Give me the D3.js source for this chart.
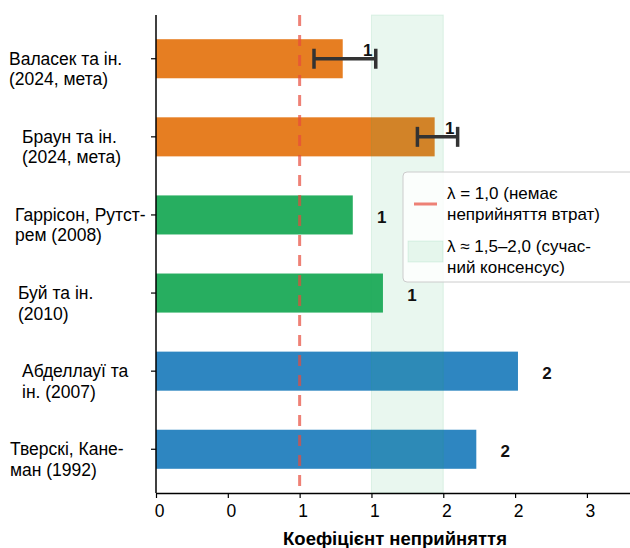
<!DOCTYPE html>
<html>
<head>
<meta charset="utf-8">
<script src="https://cdn.jsdelivr.net/npm/d3@7"></script>
<style>
  body { margin: 0; background: #fff; }
  text { font-family: "Liberation Sans", Arial, sans-serif; }
</style>
</head>
<body>
<div id="chart"></div>
<script>
// Data (top to bottom)
const studies = [
	'Валасек та ін.\n(2024, мета)',
	'Браун та ін.\n(2024, мета)',
	'Гаррісон, Рутст-\nрем (2008)',
	'Буй та ін.\n(2010)',
	'Абделлауї та\nін. (2007)',
	'Тверскі, Кане-\nман (1992)',
]
const lossAversion = [1.30, 1.94, 1.37, 1.58, 2.52, 2.23]
const ciLow = [1.10, 1.82, null, null, null, null]
const ciHigh = [1.53, 2.10, null, null, null, null]
const studyGroup = ['meta', 'meta', 'lab', 'lab', 'field', 'field']
const xTicks = [0, 0.5, 1, 1.5, 2, 2.5, 3]
const xTickLabels = ['0', '0', '1', '1', '2', '2', '3']
const noLossLambda = 1.0
const consensusBand = [1.5, 2.0]
const legendLabels = [
	['λ = 1,0 (немає', 'неприйняття втрат)'],
	['λ ≈ 1,5–2,0 (сучас-', 'ний консенсус)'],
]
const xTitle = 'Коефіцієнт неприйняття'

// Styles / layout
const colors = {
	meta: '#e67e22',
	lab: '#27ae60',
	field: '#2e86c1',
	refLine: '#e74c3c',
	band: '#27ae60',
	err: '#333333',
}
const labelLeft = [9, 22, 15, 18, 22, 10] // left edge of each y tick label block
const width = 630, height = 548
const plot = {left: 156, right: 630, top: 15, bottom: 493}
const fontSize = 17.5

const svg = d3.select('#chart').append('svg')
	.attr('width', width).attr('height', height)

const x = d3.scaleLinear().domain([0, 3.3]).range([plot.left, plot.right])
const y = d3.scaleBand().domain(studies)
	.range([plot.top, plot.bottom])
	.paddingInner(0.5).paddingOuter(0.31)
const yMid = s => y(s) + y.bandwidth() / 2

// Bars
svg.selectAll('.bar')
	.data(studies).enter()
	.append('rect')
	.classed('bar', true)
	.attr('x', x(0))
	.attr('y', d => y(d))
	.attr('width', (d, i) => x(lossAversion[i]) - x(0))
	.attr('height', y.bandwidth())
	.attr('fill', (d, i) => colors[studyGroup[i]])

// Consensus band (drawn over bars, translucent)
svg.append('rect')
	.attr('x', x(consensusBand[0]))
	.attr('y', plot.top)
	.attr('width', x(consensusBand[1]) - x(consensusBand[0]))
	.attr('height', plot.bottom - plot.top)
	.attr('fill', colors.band).attr('fill-opacity', 0.1)
	.attr('stroke', colors.band).attr('stroke-opacity', 0.12)

// lambda = 1 reference line
svg.append('line')
	.attr('x1', x(noLossLambda)).attr('x2', x(noLossLambda))
	.attr('y1', plot.top).attr('y2', plot.bottom)
	.attr('stroke', colors.refLine).attr('stroke-opacity', 0.7)
	.attr('stroke-width', 3).attr('stroke-dasharray', '11,9')

// Error bars
const errData = studies.map((s, i) => ({s, lo: ciLow[i], hi: ciHigh[i]})).filter(d => d.lo != null)
const errG = svg.selectAll('.err').data(errData).enter().append('g').classed('err', true)
errG.append('line')
	.attr('x1', d => x(d.lo)).attr('x2', d => x(d.hi))
	.attr('y1', d => yMid(d.s)).attr('y2', d => yMid(d.s))
	.attr('stroke', colors.err).attr('stroke-width', 3.5)
errG.selectAll('.cap').data(d => [[d.lo, d.s], [d.hi, d.s]]).enter()
	.append('line')
	.attr('x1', d => x(d[0])).attr('x2', d => x(d[0]))
	.attr('y1', d => yMid(d[1]) - 10).attr('y2', d => yMid(d[1]) + 10)
	.attr('stroke', colors.err).attr('stroke-width', 3.5)

// Value labels
svg.selectAll('.val')
	.data(studies).enter()
	.append('text')
	.classed('val', true)
	.attr('x', (d, i) => ciHigh[i] != null ? x(ciHigh[i]) - 8 : x(lossAversion[i]) + 29)
	.attr('y', (d, i) => ciHigh[i] != null ? yMid(d) - 3 : yMid(d) + 8)
	.attr('text-anchor', 'middle')
	.attr('font-size', 17).attr('font-weight', 'bold')
	.attr('fill', '#111')
	.text((d, i) => String(Math.floor(lossAversion[i])))

// Axes
const xAxis = svg.append('g')
	.attr('transform', `translate(0,${plot.bottom})`)
	.call(d3.axisBottom(x).tickValues(xTicks).tickFormat((d, i) => xTickLabels[i]).tickSize(5).tickSizeOuter(0))
xAxis.select('.domain').attr('stroke', '#000').attr('stroke-width', 1.5)
xAxis.selectAll('.tick line').attr('stroke', '#000').attr('stroke-width', 1.2)
xAxis.selectAll('.tick text')
	.attr('font-size', fontSize).attr('fill', '#000')
	.attr('font-family', '"Liberation Sans", Arial, sans-serif')
	.attr('x', 3)
	.attr('y', 12).attr('dy', '0.71em')

const yAxis = svg.append('g')
	.attr('transform', `translate(${plot.left},0)`)
	.call(d3.axisLeft(y).tickFormat('').tickSize(5).tickSizeOuter(0))
yAxis.select('.domain').attr('stroke', '#000').attr('stroke-width', 1.5)
	.attr('d', `M0,${plot.top}V${plot.bottom}`)
yAxis.selectAll('.tick line').attr('stroke', '#000').attr('stroke-width', 1.2)

// Y tick labels: first line on the tick, second below
studies.forEach((s, i) => {
	const t = svg.append('text')
		.attr('x', labelLeft[i]).attr('y', yMid(s) + 6)
		.attr('font-size', fontSize).attr('fill', '#000')
	s.split('\n').forEach((line, j) => {
		t.append('tspan').attr('x', labelLeft[i]).attr('dy', j === 0 ? 0 : 20.5).text(line)
	})
})

// X title
svg.append('text')
	.attr('x', 395)
	.attr('y', 545)
	.attr('text-anchor', 'middle')
	.attr('font-size', 18.5).attr('font-weight', 'bold')
	.text(xTitle)

// Legend
const leg = svg.append('g').attr('transform', 'translate(403,172)')
leg.append('rect')
	.attr('width', 260).attr('height', 110).attr('rx', 4)
	.attr('fill', '#fff').attr('fill-opacity', 0.8)
	.attr('stroke', '#ccc').attr('stroke-width', 1)
leg.append('line')
	.attr('x1', 11).attr('x2', 34).attr('y1', 32).attr('y2', 32)
	.attr('stroke', colors.refLine).attr('stroke-opacity', 0.7).attr('stroke-width', 3)
leg.append('rect')
	.attr('x', 5).attr('y', 69).attr('width', 35).attr('height', 21)
	.attr('fill', colors.band).attr('fill-opacity', 0.1)
	.attr('stroke', colors.band).attr('stroke-opacity', 0.12)
legendLabels.forEach((lines, i) => {
	const t = leg.append('text').attr('y', 27 + i * 53).attr('font-size', 17).attr('fill', '#000')
	lines.forEach((line, j) => {
		t.append('tspan').attr('x', 44).attr('dy', j === 0 ? 0 : 21).text(line)
	})
})
</script>
</body>
</html>
